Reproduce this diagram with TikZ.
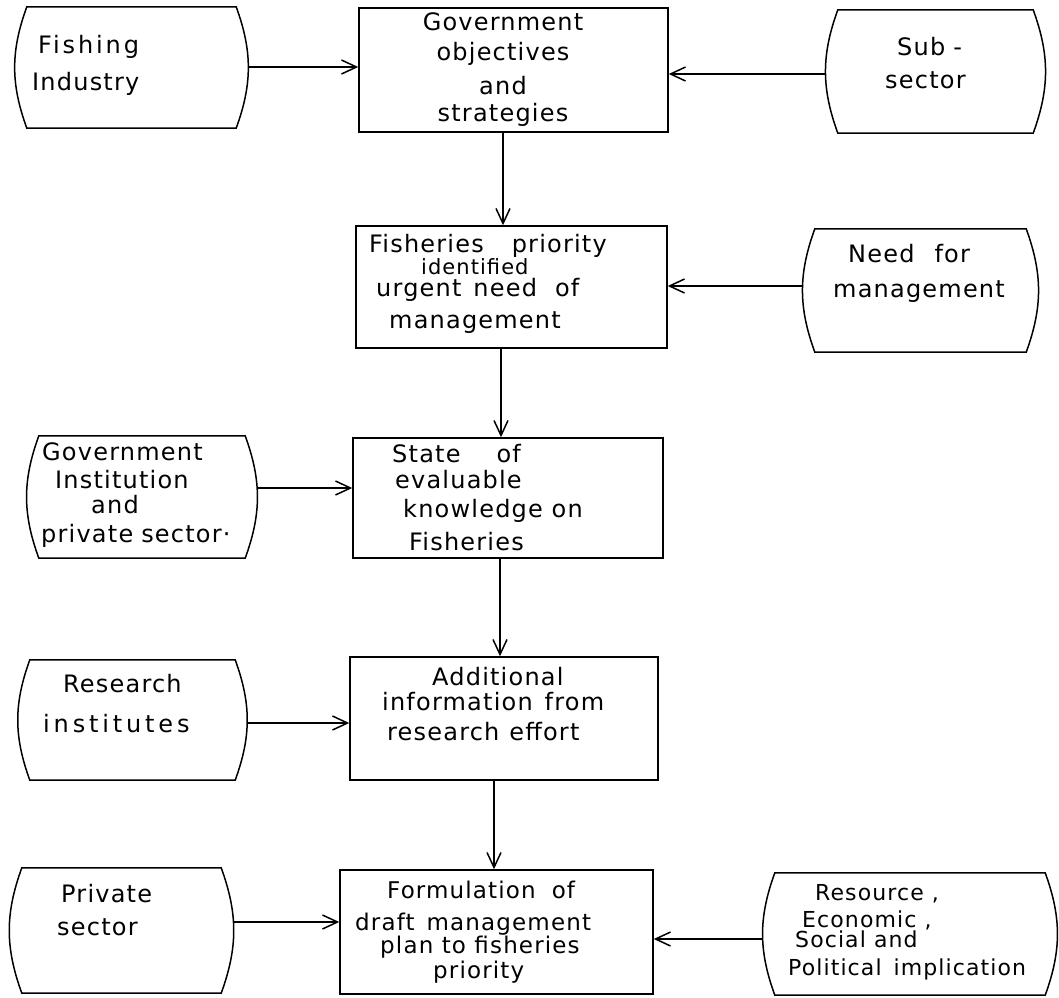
\documentclass[tikz,border=0pt]{standalone}
\usepackage{fontspec}
\setmainfont{DejaVu Sans}[LetterSpace=5]
\usetikzlibrary{arrows.meta}
\begin{document}
\begin{tikzpicture}[x=1bp,y=-1bp,
  mainbox/.style={draw, line width=1.5bp, rectangle, inner sep=0pt},
  sidebox/.style={draw=none, rectangle, inner sep=0pt},
  outline/.style={line width=1.5bp},
  arr/.style={line width=1.5bp, -{Straight Barb[length=15bp,width=14bp,line width=1.5bp]}},
  txt/.style={anchor=north west, inner sep=0pt, align=left, font=\fontsize{24bp}{28bp}\selectfont},
  txtm/.style={anchor=north west, inner sep=0pt, align=left, font=\fontsize{23bp}{27bp}\selectfont},
  txts/.style={anchor=north west, inner sep=0pt, align=left, font=\fontsize{22bp}{26bp}\selectfont},
]
\useasboundingbox (0,0) rectangle (1059,998);

% central boxes
\node[mainbox, minimum width=309bp, minimum height=124bp] (gos) at (513.5,70) {};
\node[mainbox, minimum width=311bp, minimum height=122bp] (fpi) at (511.5,287) {};
\node[mainbox, minimum width=310bp, minimum height=120bp] (sek) at (508,498) {};
\node[mainbox, minimum width=308bp, minimum height=123bp] (air) at (504,718.5) {};
\node[mainbox, minimum width=313bp, minimum height=124bp] (fdm) at (496.5,932) {};

% side boxes
\node[sidebox, minimum width=233bp, minimum height=121bp] (fish) at (131.5,67.5) {};
\node[sidebox, minimum width=219bp, minimum height=123bp] (sub) at (935.5,71.5) {};
\node[sidebox, minimum width=235bp, minimum height=123bp] (need) at (920.5,290.5) {};
\node[sidebox, minimum width=230bp, minimum height=122bp] (gip) at (142,497) {};
\node[sidebox, minimum width=229bp, minimum height=120bp] (rin) at (132.5,720) {};
\node[sidebox, minimum width=223bp, minimum height=125bp] (pse) at (121.5,930.5) {};
\node[sidebox, minimum width=294bp, minimum height=122bp] (rse) at (910,934) {};

\foreach \n in {fish,sub,need,gip,rin,pse,rse}
  \draw[outline] ([xshift=12bp]\n.north west) to[bend right=20] ([xshift=12bp]\n.south west)
     -- ([xshift=-12bp]\n.south east) to[bend right=20] ([xshift=-12bp]\n.north east) -- cycle;

% texts
\node[txt, anchor=north, align=center] (gos-t) at (503,10.4)
  {\strut Government\\[2bp] objectives\\[6bp] and\\[-1bp] strategies};
\node[txt] (fpi-t) at (369,232.4)
  {\strut Fisheries\hspace{28bp}priority\\[-6bp]
   \hspace*{52bp}{\fontsize{21bp}{25bp}\selectfont identified}\\[-6bp]
   \hspace*{7bp}urgent\hspace{12bp}need\hspace{18bp}of\\[4bp]
   \hspace*{20bp}management};
\node[txt] (sek-t) at (392,442.4)
  {\strut State\hspace{36bp}of\\[-2bp] \hspace*{3bp}evaluable\\[1bp]
   \hspace*{11bp}knowledge on\\[5bp] \hspace*{17bp}Fisheries};
\node[txt] (air-t) at (382,665.4)
  {\strut\hspace*{50bp}Additional\\[-3bp] information\hspace{12bp}from\\[2bp]
   \hspace*{5bp}research\hspace{10bp}effort};
\node[txtm] (fdm-t) at (355,879.1)
  {\strut\hspace*{32bp}Formulation\hspace{16bp}of\\[5bp] draft\hspace{12bp}management\\[-4bp]
   \hspace*{25bp}plan to fisheries\\[-2bp] \hspace*{78bp}priority};

\node[txt] (fish-t) at (32,33.4)
  {\strut\hspace*{6bp}{\addfontfeature{LetterSpace=12}Fishing}\\[9bp] Industry};
\node[txt] (sub-t) at (885,35.4) {\strut\hspace*{12bp}Sub\hspace{8bp}-\\[5bp] sector};
\node[txt] (need-t) at (833,242.4) {\strut\hspace*{15bp}Need\hspace{20bp}for\\[7bp] management};
\node[txt] (gip-t) at (41,440.4)
  {\strut\hspace*{1bp}Government\\[0bp] \hspace*{14bp}Institution\\[-3bp]
   \hspace*{50bp}and\\[1bp] private\hspace{8bp}sector·};
\node[txt] (rin-t) at (43,672.4)
  {\strut\hspace*{20bp}Research\\[12bp] {\addfontfeature{LetterSpace=16}institutes}};
\node[txt] (pse-t) at (57,882.4) {\strut\hspace*{4bp}Private\\[5bp] sector};
\node[txts] (rse-t) at (788,881.8)
  {\strut\hspace*{27bp}Resource ,\\[1bp] \hspace*{14bp}Economic ,\\[-6bp]
   \hspace*{7bp}Social and\\[2bp] Political\hspace{12bp}implication};

% vertical flow
\draw[arr] ([xshift=-10.5bp]gos.south) -- ([xshift=-10.5bp]gos.south |- fpi.north);
\draw[arr] ([xshift=-10.5bp]fpi.south) -- ([xshift=-10.5bp]fpi.south |- sek.north);
\draw[arr] ([xshift=-8bp]sek.south) -- ([xshift=-8bp]sek.south |- air.north);
\draw[arr] ([xshift=-10bp]air.south) -- ([xshift=-10bp]air.south |- fdm.north);

% side inputs
\draw[arr] ([yshift=0.5bp]fish.east) -- ([yshift=0.5bp]fish.east -| gos.west);
\draw[arr] ([yshift=-2.5bp]sub.west) -- ([yshift=-2.5bp]sub.west -| gos.east);
\draw[arr] ([yshift=4.5bp]need.west) -- ([yshift=4.5bp]need.west -| fpi.east);
\draw[arr] ([yshift=9bp]gip.east) -- ([yshift=9bp]gip.east -| sek.west);
\draw[arr] ([yshift=-3bp]rin.east) -- ([yshift=-3bp]rin.east -| air.west);
\draw[arr] ([yshift=8.5bp]pse.east) -- ([yshift=8.5bp]pse.east -| fdm.west);
\draw[arr] ([yshift=-5bp]rse.west) -- ([yshift=-5bp]rse.west -| fdm.east);
\end{tikzpicture}
\end{document}
